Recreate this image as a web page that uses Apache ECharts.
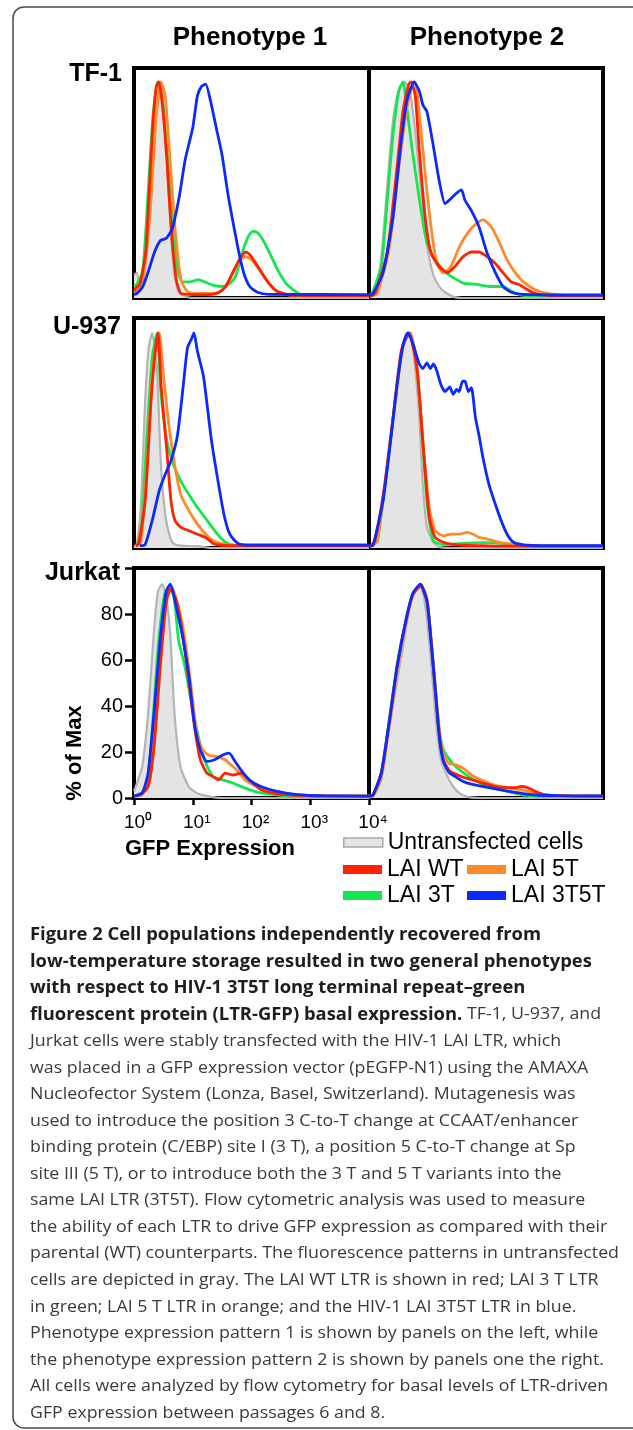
<!DOCTYPE html>
<html><head><meta charset="utf-8">
<script src="https://cdn.jsdelivr.net/npm/echarts/dist/echarts.min.js"></script>
<style>html,body{margin:0;padding:0;background:#fff}#c{width:633px;height:1430px}</style>
</head><body><div id="c"></div>
<script>
// ---------- labels ----------
const cellLines = ['TF-1', 'U-937', 'Jurkat'];
const phenotypes = ['Phenotype 1', 'Phenotype 2'];
const seriesNames = ['Untransfected cells', 'LAI WT', 'LAI 3T', 'LAI 5T', 'LAI 3T5T'];
const xTickLabels = ['10\u2070', '10\u00B9', '10\u00B2', '10\u00B3', '10\u2074']; // x in log10(GFP) units 0..4
const yTickLabels = ['0', '20', '40', '60', '80', ''];
const xAxisTitle = 'GFP Expression';
const yAxisTitle = '% of Max';

// ---------- data: [log10(GFP), % of max] ----------
// TF-1, phenotype 1
const tf1P1Gray = [[0,10],[0.05,11],[0.1,4],[0.2,15],[0.3,45],[0.38,80],[0.45,94],[0.52,80],[0.6,40],[0.68,12],[0.75,3],[0.85,1],[1.0,0],[4,0]];
const tf1P1Red = [[0,3],[0.02,4],[0.1,6],[0.2,20],[0.25,42],[0.32,75],[0.38,92],[0.42,94],[0.48,85],[0.56,60],[0.64,28],[0.72,8],[0.8,2],[1.0,1.5],[1.3,1.5],[1.45,2.5],[1.56,5],[1.7,12],[1.8,17],[1.9,20],[1.97,19],[2.1,14],[2.25,8],[2.4,3.5],[2.6,1.5],[2.8,1],[4,1]];
const tf1P1Green = [[0,5],[0.05,6],[0.15,12],[0.25,50],[0.32,78],[0.4,94],[0.47,88],[0.56,65],[0.65,35],[0.74,12],[0.82,7],[0.95,7],[1.1,8],[1.2,7],[1.35,5.5],[1.55,5],[1.72,9],[1.84,19.5],[1.94,26.5],[2.02,29],[2.1,28.5],[2.2,25],[2.32,19],[2.45,12],[2.6,6],[2.8,2],[3.0,1.2],[3.2,1],[4,1]];
const tf1P1Orange = [[0,2],[0.05,3],[0.15,8],[0.25,30],[0.3,48],[0.38,80],[0.46,94],[0.53,88],[0.6,65],[0.7,30],[0.8,8],[0.9,3],[1.0,2],[1.4,2],[1.56,5],[1.7,12],[1.8,16.5],[1.9,18],[2.0,16.5],[2.1,13.5],[2.25,8],[2.45,2.5],[2.7,1.2],[3,1],[4,1]];
const tf1P1Blue = [[0,1.5],[0.05,2],[0.15,5],[0.25,12],[0.35,20],[0.45,25],[0.55,26],[0.65,30],[0.77,44],[0.87,60],[1.0,74],[1.08,88],[1.15,92],[1.22,93],[1.3,86],[1.4,74],[1.5,62],[1.6,45],[1.7,31],[1.8,18],[1.88,10],[1.97,5],[2.1,2.5],[2.3,1.6],[4,1.5]];
// TF-1, phenotype 2
const tf1P2Gray = [[0.02,0.5],[0.1,3],[0.2,15],[0.3,45],[0.4,75],[0.5,90],[0.6,94],[0.7,90],[0.8,70],[0.9,45],[1.0,22],[1.1,10],[1.2,5],[1.3,2.5],[1.45,0.5],[1.6,0],[4,0]];
const tf1P2Red = [[0.02,0.8],[0.1,2],[0.31,19.5],[0.48,57],[0.58,81],[0.68,93],[0.72,94],[0.79,88],[0.86,64],[0.96,35],[1.06,19.5],[1.2,13.7],[1.34,11],[1.47,13.7],[1.61,18],[1.75,20],[1.88,20],[2.02,18],[2.16,15],[2.29,11],[2.43,7],[2.57,5.8],[2.71,3.6],[2.84,2],[3.05,1.2],[3.3,1],[4,1]];
const tf1P2Green = [[0.02,1],[0.07,3],[0.21,14],[0.31,42],[0.41,71],[0.51,90],[0.58,94],[0.65,82],[0.72,68],[0.86,43],[0.99,24],[1.13,17],[1.27,12],[1.4,9.5],[1.61,6.5],[1.82,6],[2.09,5],[2.29,5],[2.43,3],[2.57,1.5],[2.75,1],[4,1]];
const tf1P2Orange = [[0.02,0.8],[0.14,2],[0.34,21],[0.51,57],[0.65,83],[0.75,93],[0.79,94],[0.86,80],[0.96,54],[1.06,31],[1.16,15],[1.27,11],[1.4,13.7],[1.54,22],[1.68,28],[1.82,32],[1.95,34],[2.09,31],[2.23,24],[2.36,16.6],[2.5,11],[2.64,7],[2.84,3.6],[3.05,2],[3.32,1.2],[3.5,1],[4,1]];
const tf1P2Blue = [[0.02,1],[0.07,2],[0.24,11],[0.41,35],[0.55,68],[0.65,86],[0.77,94],[0.86,90],[0.92,84],[0.99,81],[1.1,66],[1.2,51],[1.3,41],[1.37,42.5],[1.47,45],[1.58,47],[1.64,42.5],[1.75,38],[1.88,31],[2.02,19.5],[2.16,11],[2.29,5],[2.43,2.5],[2.64,1.6],[3.32,1.3],[4,1.3]];
// U-937, phenotype 1
const u937P1Gray = [[0,0.5],[0.05,2],[0.12,20],[0.19,64],[0.25,87],[0.31,93.5],[0.39,78],[0.46,35],[0.53,15],[0.6,6],[0.67,2],[0.8,1],[1.08,0.8],[1.3,0],[4,0]];
const u937P1Red = [[0.03,0.8],[0.08,2],[0.19,20.5],[0.29,64],[0.36,85.5],[0.41,93.5],[0.46,71],[0.56,42],[0.63,20.5],[0.7,11.8],[0.8,9],[0.94,7.5],[1.08,6],[1.22,4.6],[1.35,2],[1.49,1.2],[1.7,1],[4,1]];
const u937P1Green = [[0.05,0.8],[0.12,6],[0.22,49],[0.31,82.7],[0.39,93.5],[0.46,67],[0.56,46.5],[0.67,36.4],[0.8,29],[0.94,23],[1.08,17.6],[1.25,11.8],[1.42,6],[1.56,2.5],[1.7,1.2],[1.9,1],[4,1]];
const u937P1Orange = [[0.05,0.8],[0.12,3],[0.22,35],[0.32,78],[0.43,93.5],[0.49,78],[0.6,52],[0.7,35],[0.8,23],[0.94,16],[1.08,10.4],[1.22,6],[1.35,3.2],[1.56,1.6],[1.77,1.1],[2,1],[4,1]];
const u937P1Blue = [[0.1,1],[0.19,1.5],[0.32,13],[0.43,25],[0.53,32],[0.63,38],[0.74,49],[0.84,71],[0.91,87],[0.98,91],[1.02,93.5],[1.08,85.5],[1.18,75],[1.25,61],[1.32,46.5],[1.42,30.6],[1.53,14.7],[1.63,6],[1.77,2],[1.97,1.3],[4,1.3]];
// U-937, phenotype 2
const u937P2Gray = [[0.02,0.3],[0.1,2],[0.24,20.5],[0.38,49],[0.51,78],[0.62,90],[0.71,93],[0.79,78],[0.86,56.6],[0.92,27.7],[0.99,9],[1.1,2.5],[1.2,0.5],[1.4,0],[4,0]];
const u937P2Red = [[0.02,0.8],[0.1,3],[0.27,27.7],[0.41,56.6],[0.55,85.5],[0.68,93.5],[0.82,78],[0.92,46.5],[1.03,13.3],[1.13,4.6],[1.27,2.5],[1.4,1.7],[1.61,1.2],[1.95,1],[2.3,0.8],[4,0.8]];
const u937P2Green = [[0.02,0.5],[0.14,3],[0.31,35],[0.45,64],[0.58,88.4],[0.68,93.5],[0.79,85.5],[0.89,56.6],[0.99,20.5],[1.1,3.2],[1.27,1.5],[1.61,2],[1.95,2.3],[2.29,2],[2.5,1.5],[2.77,1],[3,0.8],[4,0.8]];
const u937P2Orange = [[0.02,0.5],[0.14,3],[0.29,32],[0.45,64],[0.58,88.4],[0.71,93.5],[0.82,78],[0.92,46.5],[1.03,17.6],[1.13,7.5],[1.27,5.3],[1.4,6],[1.54,6],[1.68,6.8],[1.78,6],[1.88,4.6],[2.02,3.9],[2.16,2.9],[2.36,1.9],[2.64,1.2],[2.91,0.9],[3.2,0.8],[4,0.8]];
const u937P2Blue = [[0.02,0.8],[0.07,1.2],[0.24,20.5],[0.38,49],[0.48,71],[0.58,88],[0.66,93.5],[0.72,91],[0.79,85.5],[0.86,80],[0.92,78],[0.99,80.5],[1.05,78],[1.1,80],[1.16,77],[1.23,71],[1.3,68],[1.38,70],[1.44,66.8],[1.5,69],[1.54,68],[1.6,72.5],[1.64,72.5],[1.7,68],[1.75,69.7],[1.82,56.6],[1.88,49],[1.95,39],[2.05,27.7],[2.16,19],[2.26,11.8],[2.36,6],[2.47,2.5],[2.64,1.4],[3.32,1],[4,1]];
// Jurkat, phenotype 1
const jurP1Gray = [[0,3],[0.03,5],[0.14,13.7],[0.24,36.7],[0.34,72.8],[0.41,90],[0.48,93],[0.55,87],[0.62,70],[0.69,36.7],[0.79,13.7],[0.93,5],[1.07,2.2],[1.27,0.7],[1.5,0],[4,0]];
const jurP1Red = [[0,0.8],[0.1,1.5],[0.24,5],[0.34,22],[0.45,58],[0.55,85.7],[0.62,90.8],[0.72,85.7],[0.82,72.8],[0.93,51],[1.03,31],[1.13,16.6],[1.24,10.8],[1.34,9.4],[1.44,7.9],[1.55,10.8],[1.68,10],[1.82,10.8],[1.96,7.9],[2.16,3.6],[2.51,1.6],[2.92,1],[3.2,0.8],[4,0.8]];
const jurP1Green = [[0,0.8],[0.07,1.5],[0.21,3.6],[0.31,29.5],[0.41,65.5],[0.52,88.6],[0.62,92],[0.69,85.7],[0.76,68.4],[0.86,58],[0.96,44],[1.07,29.5],[1.2,16.6],[1.34,9.4],[1.51,7.9],[1.68,6.5],[1.89,4.3],[2.16,2.2],[2.51,1.2],[2.8,0.8],[4,0.8]];
const jurP1Orange = [[0,0.8],[0.14,1.5],[0.27,7.9],[0.38,36.7],[0.48,72.8],[0.58,88.6],[0.65,91.5],[0.76,82.9],[0.86,70],[0.96,51],[1.07,28],[1.17,20.9],[1.27,18.7],[1.41,18],[1.55,16.6],[1.65,14.4],[1.75,12.2],[1.89,7.9],[2.1,5],[2.37,2.9],[2.71,1.6],[3.2,1],[3.5,0.8],[4,0.8]];
const jurP1Blue = [[0,0.8],[0.14,2.2],[0.24,10.8],[0.34,36.7],[0.45,70],[0.55,90],[0.62,93],[0.72,82.9],[0.82,71],[0.93,54],[1.03,32],[1.13,20.9],[1.24,15.9],[1.37,16.6],[1.51,18.7],[1.62,19.5],[1.72,15.9],[1.82,12.2],[1.96,7.9],[2.16,5],[2.44,2.9],[2.78,1.5],[3.2,1],[4,0.8]];
// Jurkat, phenotype 2
const jurP2Gray = [[0,0.3],[0.07,0.7],[0.21,8],[0.34,29.5],[0.48,51],[0.58,65.5],[0.72,85.7],[0.86,92],[0.89,92],[0.96,84],[1.03,68],[1.1,47],[1.16,29.5],[1.23,16.6],[1.34,9.4],[1.44,5],[1.54,2.2],[1.68,0.5],[1.9,0],[4,0]];
const jurP2Red = [[0,0.8],[0.07,1.4],[0.21,10.8],[0.34,32],[0.48,57],[0.62,75.6],[0.75,88.6],[0.88,92],[0.99,85.7],[1.06,68.4],[1.13,48],[1.2,28],[1.27,16.6],[1.37,12],[1.47,10.5],[1.61,9],[1.75,8],[1.95,6.5],[2.16,5],[2.36,4.5],[2.5,4.5],[2.6,5],[2.71,4.5],[2.84,2.9],[2.98,1.6],[3.25,1],[3.5,0.8],[4,0.8]];
const jurP2Green = [[0,0.8],[0.07,1.4],[0.21,11],[0.34,33],[0.48,58],[0.62,76],[0.75,89],[0.88,92],[0.99,86],[1.06,69],[1.13,49],[1.2,30],[1.27,21],[1.37,17],[1.47,14],[1.61,11],[1.75,8.5],[1.95,6],[2.16,4.5],[2.36,3],[2.57,1.6],[2.71,1.1],[2.9,0.8],[4,0.8]];
const jurP2Orange = [[0,0.8],[0.07,1],[0.21,9],[0.34,30],[0.48,55],[0.62,75],[0.75,88],[0.88,93],[0.99,87],[1.06,70],[1.13,50],[1.2,30],[1.27,19],[1.37,15],[1.47,14.5],[1.61,13],[1.75,10],[1.95,7.5],[2.16,5.5],[2.36,4.5],[2.57,3.6],[2.71,3],[2.84,2],[2.98,1.3],[3.25,1],[3.5,0.8],[4,0.8]];
const jurP2Blue = [[0,0.8],[0.07,1.4],[0.21,10.8],[0.34,32],[0.48,57],[0.62,76],[0.75,89],[0.88,93],[0.99,85.7],[1.06,68.4],[1.13,48],[1.2,27],[1.27,16],[1.37,11],[1.47,9.4],[1.61,7.2],[1.75,6],[1.95,5],[2.16,4],[2.36,3],[2.57,2.2],[2.84,1.3],[3.25,1],[4,0.9]];

const captionLines = [
  ['Figure 2 Cell populations independently recovered from', ''],
  ['low-temperature storage resulted in two general phenotypes', ''],
  ['with respect to HIV-1 3T5T long terminal repeat\u2013green', ''],
  ['fluorescent protein (LTR-GFP) basal expression.', ' TF-1, U-937, and'],
  ['', 'Jurkat cells were stably transfected with the HIV-1 LAI LTR, which'],
  ['', 'was placed in a GFP expression vector (pEGFP-N1) using the AMAXA'],
  ['', 'Nucleofector System (Lonza, Basel, Switzerland). Mutagenesis was'],
  ['', 'used to introduce the position 3 C-to-T change at CCAAT/enhancer'],
  ['', 'binding protein (C/EBP) site I (3 T), a position 5 C-to-T change at Sp'],
  ['', 'site III (5 T), or to introduce both the 3 T and 5 T variants into the'],
  ['', 'same LAI LTR (3T5T). Flow cytometric analysis was used to measure'],
  ['', 'the ability of each LTR to drive GFP expression as compared with their'],
  ['', 'parental (WT) counterparts. The fluorescence patterns in untransfected'],
  ['', 'cells are depicted in gray. The LAI WT LTR is shown in red; LAI 3 T LTR'],
  ['', 'in green; LAI 5 T LTR in orange; and the HIV-1 LAI 3T5T LTR in blue.'],
  ['', 'Phenotype expression pattern 1 is shown by panels on the left, while'],
  ['', 'the phenotype expression pattern 2 is shown by panels one the right.'],
  ['', 'All cells were analyzed by flow cytometry for basal levels of LTR-driven'],
  ['', 'GFP expression between passages 6 and 8.']
];

// ---------- layout & style ----------
const panels = [
  [tf1P1Gray, tf1P1Red, tf1P1Green, tf1P1Orange, tf1P1Blue],
  [tf1P2Gray, tf1P2Red, tf1P2Green, tf1P2Orange, tf1P2Blue],
  [u937P1Gray, u937P1Red, u937P1Green, u937P1Orange, u937P1Blue],
  [u937P2Gray, u937P2Red, u937P2Green, u937P2Orange, u937P2Blue],
  [jurP1Gray, jurP1Red, jurP1Green, jurP1Orange, jurP1Blue],
  [jurP2Gray, jurP2Red, jurP2Green, jurP2Orange, jurP2Blue]
];
const colors = ['#e4e4e4', '#ff2200', '#14e650', '#ff8a2a', '#0a2aff'];
const drawOrder = [0, 2, 3, 1, 4];
const GX = [134, 369], GW = [235, 234], GY = [68, 318, 568], GH = 230;
const SANS = '"Liberation Sans", Arial, Helvetica, sans-serif';
const CAP = '"Open Sans", "Noto Sans", sans-serif';

const grids = [], xAxes = [], yAxes = [], series = [];
panels.forEach((curves, i) => {
  const row = Math.floor(i / 2), col = i % 2;
  const labelled = (row === 2 && col === 0);
  grids.push({left: GX[col], top: GY[row], width: GW[col], height: GH,
    show: true, borderColor: '#000', borderWidth: 4, backgroundColor: 'transparent'});
  xAxes.push({gridIndex: i, type: 'value', min: 0, max: 4, interval: 1,
    show: labelled,
    axisLine: {show: true, onZero: false, lineStyle: {color: '#000', width: 4}},
    axisTick: {show: true, length: 7, lineStyle: {color: '#000', width: 2.5}},
    splitLine: {show: false},
    axisLabel: {show: true, margin: 15, padding: [0, 0, 0, 8], color: '#000', fontSize: 19, fontFamily: SANS,
      formatter: v => xTickLabels[Math.round(v)]}
  });
  yAxes.push({gridIndex: i, type: 'value', min: 0, max: 100, interval: 20,
    show: labelled,
    axisLine: {show: true, lineStyle: {color: '#000', width: 4}},
    axisTick: {show: true, length: 9, lineStyle: {color: '#000', width: 2.5}},
    splitLine: {show: false},
    axisLabel: {show: true, margin: 11, color: '#000', fontSize: 20, fontFamily: SANS,
      formatter: v => yTickLabels[Math.round(v / 20)]}
  });
  drawOrder.forEach(k => {
    const isGray = k === 0;
    series.push({
      name: seriesNames[k], type: 'line', xAxisIndex: i, yAxisIndex: i,
      data: curves[k], showSymbol: false, symbol: 'none', smooth: 0.2,
      z: isGray ? 1 : 2, silent: true,
      itemStyle: {color: colors[k]},
      lineStyle: {color: isGray ? '#b4b4b4' : colors[k], width: isGray ? 2.2 : 2.8},
      areaStyle: isGray ? {color: colors[0], opacity: 1} : undefined
    });
  });
});

const legendCommon = {icon: 'rect', itemWidth: 39, itemHeight: 9, padding: 0, selectedMode: false,
  textStyle: {fontSize: 23, color: '#000', fontFamily: SANS}};
const legItem = k => ({name: seriesNames[k], itemStyle: k === 0 ?
  {color: colors[0], borderColor: '#a8a8a8', borderWidth: 1.5} : {color: colors[k], borderWidth: 0}});
const legends = [
  Object.assign({left: 343, top: 831, data: [legItem(0)]}, legendCommon),
  Object.assign({left: 343, top: 858, data: [legItem(1)]}, legendCommon),
  Object.assign({left: 467, top: 858, data: [legItem(3)]}, legendCommon),
  Object.assign({left: 343, top: 884, data: [legItem(2)]}, legendCommon),
  Object.assign({left: 467, top: 884, data: [legItem(4)]}, legendCommon)
];

// caption horizontal fit
const mctx = document.createElement('canvas').getContext('2d');
mctx.font = '17px ' + CAP;
const capScale = 589 / mctx.measureText(captionLines[12][1]).width;

const graphics = [
  {type: 'rect', shape: {x: 13, y: 7, width: 640, height: 1421, r: 11},
    style: {fill: 'none', stroke: '#4a4a4a', lineWidth: 1.5}, silent: true},
  {type: 'text', x: 250, y: 38, style: {text: phenotypes[0], font: 'bold 26px ' + SANS, fill: '#000', align: 'center', verticalAlign: 'middle'}},
  {type: 'text', x: 487, y: 38, style: {text: phenotypes[1], font: 'bold 26px ' + SANS, fill: '#000', align: 'center', verticalAlign: 'middle'}},
  {type: 'text', x: 122, y: 74, style: {text: cellLines[0], font: 'bold 25px ' + SANS, fill: '#000', align: 'right', verticalAlign: 'middle'}},
  {type: 'text', x: 121, y: 327, style: {text: cellLines[1], font: 'bold 25px ' + SANS, fill: '#000', align: 'right', verticalAlign: 'middle'}},
  {type: 'text', x: 120, y: 573, style: {text: cellLines[2], font: 'bold 25px ' + SANS, fill: '#000', align: 'right', verticalAlign: 'middle'}},
  {type: 'text', x: 125, y: 849, style: {text: xAxisTitle, font: 'bold 22px ' + SANS, fill: '#000', align: 'left', verticalAlign: 'middle'}},
  {type: 'text', x: 75, y: 753, rotation: Math.PI / 2, style: {text: yAxisTitle, font: 'bold 22px ' + SANS, fill: '#000', align: 'center', verticalAlign: 'middle'}}
];
captionLines.forEach((ln, i) => {
  const txt = (ln[0] ? '{b|' + ln[0] + '}' : '') + (ln[1] ? '{r|' + ln[1] + '}' : '');
  graphics.push({type: 'text', x: 30, y: 935 + i * 26.55, scaleX: capScale, originX: 0, silent: true,
    style: {text: txt, align: 'left', verticalAlign: 'middle',
      rich: {b: {fontFamily: CAP, fontSize: 17.6, fontWeight: 'bold', fill: '#1e1e1e'},
             r: {fontFamily: CAP, fontSize: 17, fontWeight: 'normal', fill: '#3a3a3a'}}}});
});

const chart = echarts.init(document.getElementById('c'), null, {renderer: 'canvas'});
chart.setOption({
  animation: false, backgroundColor: '#fff',
  grid: grids, xAxis: xAxes, yAxis: yAxes, series: series,
  legend: legends, graphic: graphics
});
</script></body></html>
